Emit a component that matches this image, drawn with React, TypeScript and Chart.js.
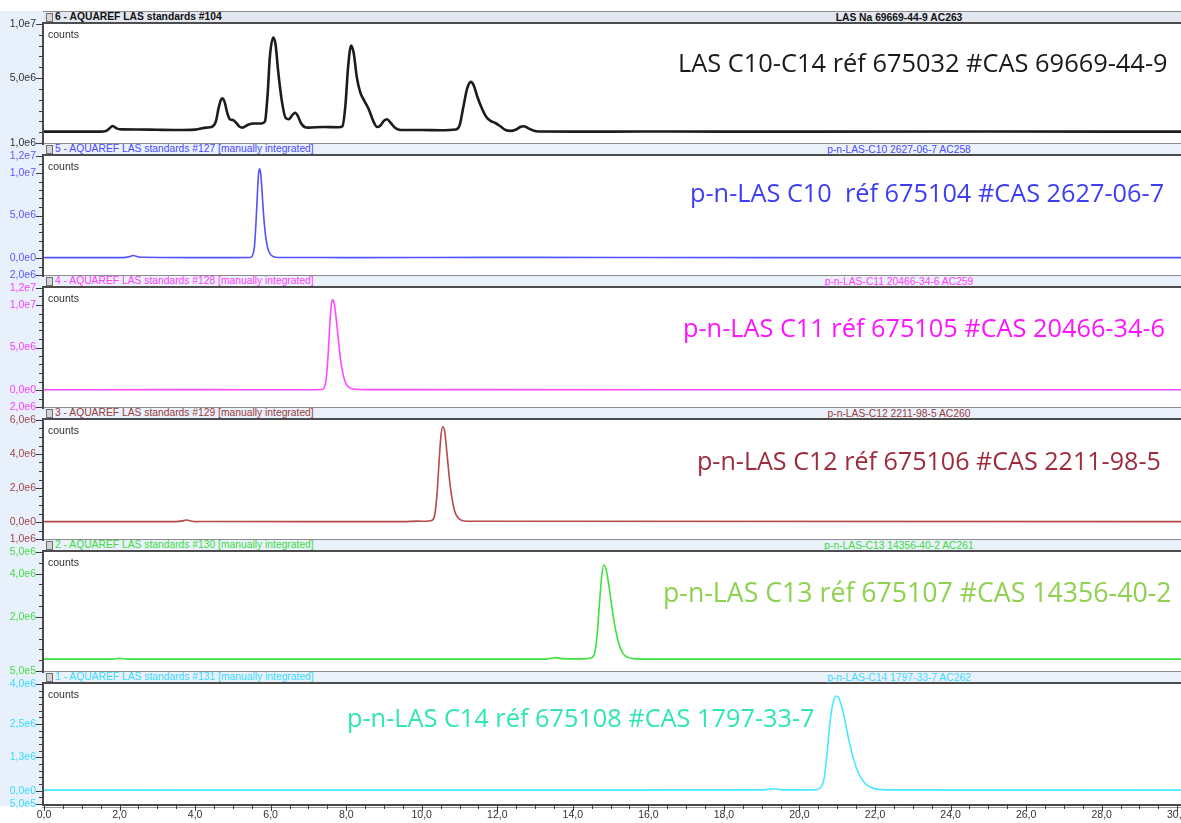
import React, { useEffect, useRef } from 'react';
import { Chart, registerables } from 'chart.js';

Chart.register(...registerables);

// Chromatogram traces: [retention time (min), counts]
const lasMixTrace: [number, number][] = [
  [0, 0.05e6], [1.5, 0.05e6], [1.62, 0.08e6], [1.72, 0.3e6], [1.82, 0.57e6], [1.92, 0.35e6],
  [2.05, 0.26e6], [2.5, 0.25e6], [3.0, 0.22e6], [3.5, 0.2e6], [4.0, 0.24e6], [4.3, 0.42e6],
  [4.45, 0.5e6], [4.55, 1.0e6], [4.62, 2.2e6], [4.68, 2.95e6], [4.72, 3.13e6], [4.78, 2.8e6],
  [4.85, 1.8e6], [4.92, 1.2e6], [5.0, 1.12e6], [5.08, 0.9e6], [5.18, 0.5e6], [5.25, 0.42e6],
  [5.4, 0.68e6], [5.55, 0.8e6], [5.75, 0.8e6], [5.85, 1.0e6], [5.92, 3.5e6], [5.98, 7.0e6],
  [6.07, 8.75e6], [6.13, 8.1e6], [6.2, 5.6e6], [6.3, 2.8e6], [6.4, 1.3e6], [6.48, 1.2e6],
  [6.58, 1.6e6], [6.65, 1.8e6], [6.72, 1.5e6], [6.8, 0.85e6], [6.9, 0.48e6], [7.0, 0.42e6],
  [7.4, 0.48e6], [7.8, 0.45e6], [7.9, 0.55e6], [7.98, 2.5e6], [8.05, 6.0e6], [8.13, 8.0e6],
  [8.2, 7.3e6], [8.28, 5.1e6], [8.37, 3.7e6], [8.48, 2.9e6], [8.6, 2.1e6], [8.72, 1.0e6],
  [8.82, 0.48e6], [8.9, 0.6e6], [9.0, 1.05e6], [9.08, 1.2e6], [9.18, 0.85e6], [9.3, 0.38e6],
  [9.45, 0.2e6], [10.0, 0.2e6], [10.5, 0.18e6], [10.9, 0.25e6], [11.0, 0.6e6], [11.1, 2.3e6],
  [11.2, 4.0e6], [11.3, 4.65e6], [11.38, 4.3e6], [11.47, 3.3e6], [11.58, 2.3e6], [11.7, 1.45e6],
  [11.82, 1.05e6], [11.95, 0.85e6], [12.08, 0.55e6], [12.22, 0.2e6], [12.35, 0.12e6], [12.5, 0.25e6],
  [12.62, 0.5e6], [12.7, 0.55e6], [12.8, 0.4e6], [12.95, 0.15e6], [13.1, 0.06e6], [14.0, 0.05e6],
  [16.0, 0.06e6], [20.0, 0.05e6], [25.0, 0.06e6], [30.1, 0.05e6],
];

const c10Trace: [number, number][] = [
  [0, 0.05e6], [2.1, 0.05e6], [2.25, 0.15e6], [2.36, 0.3e6], [2.48, 0.15e6], [2.65, 0.08e6],
  [4.0, 0.05e6], [5.0, 0.05e6], [5.45, 0.06e6], [5.52, 0.3e6], [5.57, 1.3e6], [5.61, 4.0e6],
  [5.65, 7.6e6], [5.68, 9.9e6], [5.71, 10.5e6], [5.74, 9.8e6], [5.77, 8.0e6], [5.81, 5.3e6],
  [5.86, 2.8e6], [5.92, 1.2e6], [5.99, 0.45e6], [6.08, 0.15e6], [6.2, 0.06e6], [8.0, 0.05e6],
  [12.0, 0.07e6], [20.0, 0.05e6], [30.1, 0.05e6],
];

const c11Trace: [number, number][] = [
  [0, 0.03e6], [4.0, 0.04e6], [7.0, 0.03e6], [7.35, 0.05e6], [7.42, 0.3e6], [7.47, 1.3e6],
  [7.52, 4.0e6], [7.57, 8.0e6], [7.61, 10.2e6], [7.65, 10.6e6], [7.69, 10.0e6], [7.74, 8.2e6],
  [7.8, 5.6e6], [7.86, 3.3e6], [7.93, 1.6e6], [8.0, 0.7e6], [8.1, 0.25e6], [8.25, 0.08e6],
  [8.5, 0.04e6], [30.1, 0.03e6],
];

const c12Trace: [number, number][] = [
  [0, 0.02e6], [3.5, 0.02e6], [3.7, 0.08e6], [3.78, 0.12e6], [3.88, 0.06e6], [4.0, 0.02e6],
  [4.3, 0.03e6], [9.5, 0.02e6], [9.9, 0.05e6], [10.1, 0.04e6], [10.28, 0.1e6], [10.35, 0.5e6],
  [10.41, 1.8e6], [10.46, 3.6e6], [10.51, 5.1e6], [10.56, 5.6e6], [10.61, 5.3e6], [10.67, 4.0e6],
  [10.73, 2.6e6], [10.8, 1.4e6], [10.87, 0.65e6], [10.95, 0.28e6], [11.05, 0.1e6], [11.2, 0.04e6],
  [30.1, 0.02e6],
];

const c13Trace: [number, number][] = [
  [0, 0.05e6], [1.8, 0.05e6], [2.0, 0.09e6], [2.2, 0.05e6], [13.3, 0.05e6], [13.55, 0.12e6],
  [13.7, 0.07e6], [14.3, 0.06e6], [14.5, 0.12e6], [14.58, 0.35e6], [14.64, 1.1e6], [14.7, 2.5e6],
  [14.76, 3.8e6], [14.82, 4.4e6], [14.88, 4.2e6], [14.95, 3.5e6], [15.03, 2.5e6], [15.12, 1.5e6],
  [15.22, 0.75e6], [15.33, 0.3e6], [15.45, 0.13e6], [15.6, 0.07e6], [16.0, 0.05e6], [30.1, 0.05e6],
];

const c14Trace: [number, number][] = [
  [0, 0.02e6], [19.0, 0.03e6], [19.3, 0.07e6], [19.6, 0.03e6], [20.4, 0.03e6], [20.55, 0.1e6],
  [20.65, 0.45e6], [20.73, 1.4e6], [20.81, 2.6e6], [20.89, 3.3e6], [20.97, 3.55e6], [21.03, 3.5e6],
  [21.1, 3.25e6], [21.2, 2.65e6], [21.3, 1.95e6], [21.4, 1.35e6], [21.5, 0.88e6], [21.6, 0.55e6],
  [21.72, 0.3e6], [21.88, 0.13e6], [22.1, 0.05e6], [22.5, 0.03e6], [30.1, 0.02e6],
];

// Retention time axis
const timeTickValues = [0, 2, 4, 6, 8, 10, 12, 14, 16, 18, 20, 22, 24, 26, 28, 30];
const timeTickLabels = ['0,0', '2,0', '4,0', '6,0', '8,0', '10,0', '12,0', '14,0', '16,0', '18,0', '20,0', '22,0', '24,0', '26,0', '28,0', '30,0'];

// Counts axes (value, printed label)
const lasMixYTicks = [1e7, 5e6, -1e6];
const lasMixYLabels = ['1,0e7', '5,0e6', '1,0e6'];
const c10YTicks = [1.2e7, 1e7, 5e6, 0, -2e6];
const c10YLabels = ['1,2e7', '1,0e7', '5,0e6', '0,0e0', '2,0e6'];
const c11YTicks = [1.2e7, 1e7, 5e6, 0, -2e6];
const c11YLabels = ['1,2e7', '1,0e7', '5,0e6', '0,0e0', '2,0e6'];
const c12YTicks = [6e6, 4e6, 2e6, 0, -1e6];
const c12YLabels = ['6,0e6', '4,0e6', '2,0e6', '0,0e0', '1,0e6'];
const c13YTicks = [5e6, 4e6, 2e6, -5e5];
const c13YLabels = ['5,0e6', '4,0e6', '2,0e6', '5,0e5'];
const c14YTicks = [4e6, 2.5e6, 1.25e6, 0, -5e5];
const c14YLabels = ['4,0e6', '2,5e6', '1,3e6', '0,0e0', '5,0e5'];

const PLOT_LEFT = 44;
const PAGE_W = 1181;
const RIGHT_PAD = 16;
const HEADER_H = 13;
const PAD = 20;

type PanelSpec = {
  trace: [number, number][];
  yMin: number;
  yMax: number;
  yTicks: number[];
  yLabels: string[];
  yMinorStep: number;
  lineColor: string;
  lineWidth: number;
  axisColor: string;
  headerColor: string;
  headerBg: string;
  bold: boolean;
  title: string;
  compound: string;
  note: string;
  noteColor: string;
  noteX: number;
  noteY: number;
  noteSize: number;
  headerTop: number;
  plotH: number;
};

const panels: PanelSpec[] = [
  {
    trace: lasMixTrace, yMin: -1e6, yMax: 1e7, yTicks: lasMixYTicks, yLabels: lasMixYLabels, yMinorStep: 1e6,
    lineColor: '#1c1c1c', lineWidth: 2.6, axisColor: '#333333', headerColor: '#111111', headerBg: '#e3e7f0', bold: true,
    title: '6 - AQUAREF LAS standards #104', compound: 'LAS Na 69669-44-9 AC263',
    note: 'LAS C10-C14 réf 675032 #CAS 69669-44-9', noteColor: '#1a1a1a', noteX: 678, noteY: 62, noteSize: 25.4,
    headerTop: 11, plotH: 119,
  },
  {
    trace: c10Trace, yMin: -2e6, yMax: 1.2e7, yTicks: c10YTicks, yLabels: c10YLabels, yMinorStep: 1e6,
    lineColor: '#5252ff', lineWidth: 1.6, axisColor: '#5a5aff', headerColor: '#4a4aff', headerBg: '#eaf1fb', bold: false,
    title: '5 - AQUAREF LAS standards #127 [manually integrated]', compound: 'p-n-LAS-C10 2627-06-7 AC258',
    note: 'p-n-LAS C10  réf 675104 #CAS 2627-06-7', noteColor: '#3d3df5', noteX: 690, noteY: 192, noteSize: 25.3,
    headerTop: 143, plotH: 119,
  },
  {
    trace: c11Trace, yMin: -2e6, yMax: 1.2e7, yTicks: c11YTicks, yLabels: c11YLabels, yMinorStep: 1e6,
    lineColor: '#ff48ff', lineWidth: 1.6, axisColor: '#ff3cff', headerColor: '#ff3cff', headerBg: '#eaf1fb', bold: false,
    title: '4 - AQUAREF LAS standards #128 [manually integrated]', compound: 'p-n-LAS-C11 20466-34-6 AC259',
    note: 'p-n-LAS C11 réf 675105 #CAS 20466-34-6', noteColor: '#ff14ff', noteX: 683, noteY: 327, noteSize: 25.3,
    headerTop: 275, plotH: 119,
  },
  {
    trace: c12Trace, yMin: -1e6, yMax: 6e6, yTicks: c12YTicks, yLabels: c12YLabels, yMinorStep: 5e5,
    lineColor: '#b44a4a', lineWidth: 1.6, axisColor: '#a04848', headerColor: '#9a3c3c', headerBg: '#eaf1fb', bold: false,
    title: '3 - AQUAREF LAS standards #129 [manually integrated]', compound: 'p-n-LAS-C12 2211-98-5 AC260',
    note: 'p-n-LAS C12 réf 675106 #CAS 2211-98-5', noteColor: '#9c2b3c', noteX: 697, noteY: 460, noteSize: 25.1,
    headerTop: 407, plotH: 119,
  },
  {
    trace: c13Trace, yMin: -5e5, yMax: 5e6, yTicks: c13YTicks, yLabels: c13YLabels, yMinorStep: 5e5,
    lineColor: '#3ee23e', lineWidth: 1.6, axisColor: '#44dd44', headerColor: '#3cdc3c', headerBg: '#eaf1fb', bold: false,
    title: '2 - AQUAREF LAS standards #130 [manually integrated]', compound: 'p-n-LAS-C13 14356-40-2 AC261',
    note: 'p-n-LAS C13 réf 675107 #CAS 14356-40-2', noteColor: '#8fd150', noteX: 663, noteY: 592, noteSize: 26.7,
    headerTop: 539, plotH: 119,
  },
  {
    trace: c14Trace, yMin: -5e5, yMax: 4e6, yTicks: c14YTicks, yLabels: c14YLabels, yMinorStep: 2.5e5,
    lineColor: '#48e8ff', lineWidth: 1.6, axisColor: '#33ddff', headerColor: '#38dcff', headerBg: '#eaf1fb', bold: false,
    title: '1 - AQUAREF LAS standards #131 [manually integrated]', compound: 'p-n-LAS-C14 1797-33-7 AC262',
    note: 'p-n-LAS C14 réf 675108 #CAS 1797-33-7', noteColor: '#2fe6b4', noteX: 347, noteY: 717, noteSize: 25.3,
    headerTop: 671, plotH: 120,
  },
];

const AXIS_FONT = { family: '"Liberation Sans", Arial, sans-serif', size: 10.5 };

// Draws axis lines plus major/minor tick marks using the chart's own scales
const tickMarks = {
  id: 'tickMarks',
  afterDraw(chart: any, _args: any, opts: any) {
    const { ctx, chartArea } = chart;
    const ys = chart.scales.y;
    ctx.save();
    ctx.strokeStyle = '#3c3c3c';
    ctx.lineWidth = 1;
    const minorY: number[] = [];
    for (let v = opts.yMin; v <= opts.yMax + 1; v += opts.yMinorStep) minorY.push(v);
    for (const v of minorY) {
      const py = Math.round(ys.getPixelForValue(v)) + 0.5;
      ctx.beginPath();
      ctx.moveTo(chartArea.left - 5, py);
      ctx.lineTo(chartArea.left, py);
      ctx.stroke();
    }
    for (const v of opts.yMajor) {
      const py = Math.round(ys.getPixelForValue(v)) + 0.5;
      ctx.beginPath();
      ctx.moveTo(chartArea.left - 8, py);
      ctx.lineTo(chartArea.left, py);
      ctx.stroke();
    }
    // left axis line
    ctx.strokeStyle = '#4a4a4a';
    ctx.lineWidth = 2;
    ctx.beginPath();
    ctx.moveTo(chartArea.left - 1, chartArea.top - 2);
    ctx.lineTo(chartArea.left - 1, chartArea.bottom + 2);
    ctx.stroke();

    if (opts.showTime) {
      const xs = chart.scales.x;
      ctx.strokeStyle = '#4a4a4a';
      ctx.lineWidth = 2;
      ctx.beginPath();
      ctx.moveTo(chartArea.left - 2, chartArea.bottom + 1);
      ctx.lineTo(chartArea.right, chartArea.bottom + 1);
      ctx.stroke();
      ctx.strokeStyle = '#9a9a9a';
      ctx.lineWidth = 1;
      ctx.beginPath();
      ctx.moveTo(chartArea.left - 2, chartArea.bottom + 3.5);
      ctx.lineTo(chartArea.right, chartArea.bottom + 3.5);
      ctx.stroke();
      ctx.strokeStyle = '#3c3c3c';
      for (let t = 0; t <= 30.001; t += 0.5) {
        const px = Math.round(xs.getPixelForValue(t)) + 0.5;
        const major = timeTickValues.includes(Math.round(t * 10) / 10);
        ctx.beginPath();
        ctx.moveTo(px, chartArea.bottom + 2);
        ctx.lineTo(px, chartArea.bottom + (major ? 7 : 5));
        ctx.stroke();
      }
    }
    ctx.restore();
  },
};

function PanelChart({ p, last }: { p: PanelSpec; last: boolean }) {
  const ref = useRef<HTMLCanvasElement>(null);
  const padTop = PAD;
  const padBottom = last ? 0 : PAD;
  const axisH = last ? 24 : 0;
  const plotTop = p.headerTop + HEADER_H;
  const w = PAGE_W + RIGHT_PAD;
  const h = padTop + p.plotH + padBottom + axisH;

  useEffect(() => {
    const canvas = ref.current;
    if (!canvas) return;
    const chart = new Chart(canvas, {
      type: 'line',
      data: {
        datasets: [
          {
            data: p.trace.map(([t, c]) => ({ x: t, y: c })),
            borderColor: p.lineColor,
            borderWidth: p.lineWidth,
            pointRadius: 0,
            fill: false,
            cubicInterpolationMode: 'monotone',
          },
        ],
      },
      options: {
        animation: false,
        responsive: false,
        devicePixelRatio: 1,
        events: [],
        layout: { padding: { left: 0, right: RIGHT_PAD, top: padTop, bottom: padBottom } },
        plugins: {
          legend: { display: false },
          tooltip: { enabled: false },
          tickMarks: { yMin: p.yMin, yMax: p.yMax, yMinorStep: p.yMinorStep, yMajor: p.yTicks, showTime: last },
        } as any,
        scales: {
          x: {
            type: 'linear',
            min: 0,
            max: 30.1,
            display: last,
            afterBuildTicks: (s: any) => {
              s.ticks = timeTickValues.map((v) => ({ value: v }));
            },
            afterFit: (s: any) => {
              s.height = axisH;
            },
            grid: { display: false, drawTicks: false },
            border: { display: false },
            ticks: {
              autoSkip: false,
              maxRotation: 0,
              padding: 5,
              color: '#333333',
              font: AXIS_FONT,
              callback: (v: any) => timeTickLabels[timeTickValues.indexOf(Number(v))] ?? '',
            },
          },
          y: {
            type: 'linear',
            min: p.yMin,
            max: p.yMax,
            afterBuildTicks: (s: any) => {
              s.ticks = p.yTicks.map((v) => ({ value: v }));
            },
            afterFit: (s: any) => {
              s.width = PLOT_LEFT;
            },
            grid: { display: false, drawTicks: false },
            border: { display: false },
            ticks: {
              autoSkip: false,
              padding: 8,
              color: p.axisColor,
              font: AXIS_FONT,
              callback: (v: any) => p.yLabels[p.yTicks.indexOf(Number(v))] ?? '',
            },
          },
        },
      },
      plugins: [tickMarks],
    } as any);
    return () => chart.destroy();
  }, [p, last]);

  return (
    <canvas
      ref={ref}
      width={w}
      height={h}
      style={{ position: 'absolute', left: 0, top: plotTop - padTop, width: w, height: h, zIndex: 2 }}
    />
  );
}

function PanelHeader({ p }: { p: PanelSpec }) {
  return (
    <div
      style={{
        position: 'absolute',
        left: PLOT_LEFT - 1,
        top: p.headerTop,
        width: PAGE_W - PLOT_LEFT + 1,
        height: HEADER_H,
        boxSizing: 'border-box',
        background: p.headerBg,
        borderTop: '1px solid #8c8c8c',
        borderBottom: '2px solid #4d4d4d',
        zIndex: 1,
      }}
    >
      <div
        style={{
          position: 'absolute', left: 3, top: 1, width: 5, height: 7,
          border: '1px solid #6e6e6e', background: '#d4d4d4',
        }}
      />
      <div
        style={{
          position: 'absolute', left: 12, top: -1, fontSize: 10.3, lineHeight: '12px', whiteSpace: 'nowrap',
          color: p.headerColor, fontWeight: p.bold ? 'bold' : 'normal',
          fontFamily: '"Liberation Sans", Arial, sans-serif',
        }}
      >
        {p.title}
      </div>
      <div
        style={{
          position: 'absolute', left: 900 - PLOT_LEFT, top: 0, transform: 'translateX(-50%)',
          fontSize: 10.3, lineHeight: '11px', whiteSpace: 'nowrap',
          color: p.headerColor, fontWeight: p.bold ? 'bold' : 'normal',
          fontFamily: '"Liberation Sans", Arial, sans-serif',
        }}
      >
        {p.compound}
      </div>
    </div>
  );
}

export default function App() {
  return (
    <div
      style={{
        position: 'absolute', left: 0, top: 0, width: PAGE_W, height: 823,
        background: '#ffffff', overflow: 'hidden',
      }}
    >
      <div style={{ position: 'absolute', left: 0, top: 11, width: PLOT_LEFT, height: 795, background: '#e8f0fb' }} />
      {panels.map((p, i) => (
        <PanelHeader key={'h' + i} p={p} />
      ))}
      {panels.map((p, i) => (
        <div
          key={'c' + i}
          style={{
            position: 'absolute', left: 48, top: p.headerTop + HEADER_H + 4, fontSize: 10.5, lineHeight: '12px',
            color: '#333333', fontFamily: '"Liberation Sans", Arial, sans-serif', zIndex: 3,
          }}
        >
          counts
        </div>
      ))}
      {panels.map((p, i) => (
        <PanelChart key={'p' + i} p={p} last={i === panels.length - 1} />
      ))}
      {panels.map((p, i) => (
        <div
          key={'n' + i}
          style={{
            position: 'absolute', left: p.noteX, top: p.noteY - 17, fontSize: p.noteSize, lineHeight: '34px',
            whiteSpace: 'pre', color: p.noteColor, fontFamily: '"Open Sans", "Noto Sans", sans-serif', zIndex: 3,
          }}
        >
          {p.note}
        </div>
      ))}
    </div>
  );
}
